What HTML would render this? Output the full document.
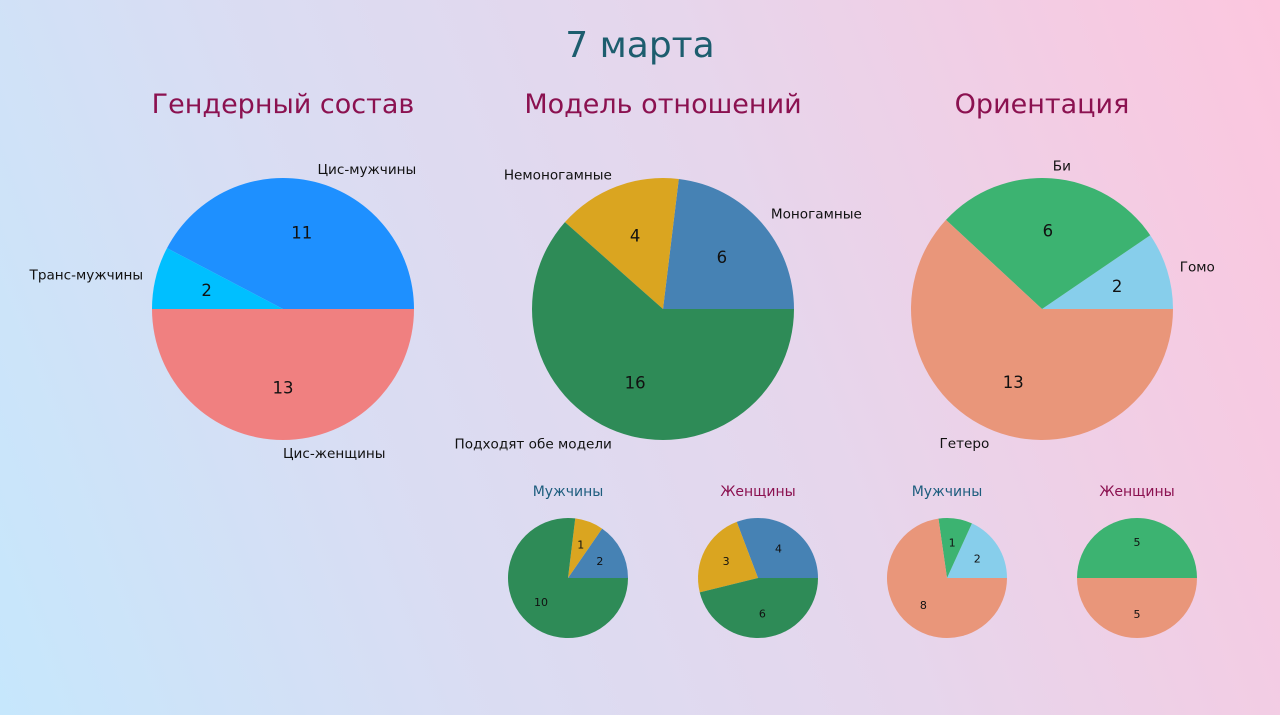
<!DOCTYPE html>
<html><head><meta charset="utf-8"><style>
html,body{margin:0;padding:0}
body{width:1280px;height:715px;overflow:hidden;background:linear-gradient(70deg,#c6e7fc 0%,#d9ddf3 30%,#e6d6ec 60%,#fcc6de 100%);font-family:"DejaVu Sans","Liberation Sans",sans-serif}
svg{position:absolute;left:0;top:0}
</style></head><body>
<svg id="chart" width="1280" height="715">
<text x="640" y="57" text-anchor="middle" font-size="36" fill="#1d5d6e">7 марта</text>
<text x="283" y="113" text-anchor="middle" font-size="27" fill="#8b1150">Гендерный состав</text>
<text x="663" y="113" text-anchor="middle" font-size="27" fill="#8b1150">Модель отношений</text>
<text x="1042" y="113" text-anchor="middle" font-size="27" fill="#8b1150">Ориентация</text>
<text x="568" y="496" text-anchor="middle" font-size="14" fill="#1d5d7e">Мужчины</text>
<text x="758" y="496" text-anchor="middle" font-size="14" fill="#8b1150">Женщины</text>
<text x="947" y="496" text-anchor="middle" font-size="14" fill="#1d5d7e">Мужчины</text>
<text x="1137" y="496" text-anchor="middle" font-size="14" fill="#8b1150">Женщины</text>
</svg>
<script>
const genderLabels=["Цис-мужчины","Транс-мужчины","Цис-женщины"];
const genderValues=[11,2,13];
const genderColors=["#1e90ff","#00bfff","#f08080"];
const relLabels=["Моногамные","Немоногамные","Подходят обе модели"];
const relValues=[6,4,16];
const relMenValues=[2,1,10];
const relWomenValues=[4,3,6];
const relColors=["#4682b4","#daa520","#2e8b57"];
const orLabels=["Гомо","Би","Гетеро"];
const orValues=[2,6,13];
const orMenValues=[2,1,8];
const orWomenValues=[0,5,5];
const orColors=["#87ceeb","#3cb371","#e9967a"];
const svg=document.getElementById('chart');
const NS="http://www.w3.org/2000/svg";
function pie(name,cx,cy,r,vals,colors,labels,numSize){
  const tot=vals.reduce((a,b)=>a+b,0);
  let a0=0;
  vals.forEach((v,i)=>{
    const a1=a0+v/tot*2*Math.PI;
    if(v>0){
      let el;
      if(v===tot){el=document.createElementNS(NS,'circle');el.setAttribute('cx',cx);el.setAttribute('cy',cy);el.setAttribute('r',r);}
      else{
        el=document.createElementNS(NS,'path');
        const x0=cx+r*Math.cos(a0),y0=cy-r*Math.sin(a0),x1=cx+r*Math.cos(a1),y1=cy-r*Math.sin(a1);
        el.setAttribute('d',`M${cx},${cy}L${x0},${y0}A${r},${r} 0 ${a1-a0>Math.PI?1:0} 0 ${x1},${y1}Z`);
      }
      el.setAttribute('fill',colors[i]);
      
      
      svg.appendChild(el);
      const m=(a0+a1)/2;
      const t=document.createElementNS(NS,'text');
      t.setAttribute('x',cx+0.6*r*Math.cos(m));t.setAttribute('y',cy-0.6*r*Math.sin(m)+numSize*0.36);
      t.setAttribute('text-anchor','middle');t.setAttribute('font-size',numSize);t.setAttribute('fill','#111');
      t.textContent=v;
      
      
      svg.appendChild(t);
      if(labels){
        const l=document.createElementNS(NS,'text');
        const lx=cx+1.1*r*Math.cos(m),ly=cy-1.1*r*Math.sin(m);
        l.setAttribute('x',lx);l.setAttribute('y',ly+5);
        l.setAttribute('text-anchor',Math.cos(m)>=-1e-6?'start':'end');
        l.setAttribute('font-size',13.6);l.setAttribute('fill','#111');
        l.textContent=labels[i];
        
        
        svg.appendChild(l);
      }
    }
    a0=a1;
  });
}
pie('gender',283,309,131,genderValues,genderColors,genderLabels,16.5);
pie('relationship',663,309,131,relValues,relColors,relLabels,16.5);
pie('orientation',1042,309,131,orValues,orColors,orLabels,16.5);
pie('rel-men',568,578,60,relMenValues,relColors,null,11);
pie('rel-women',758,578,60,relWomenValues,relColors,null,11);
pie('or-men',947,578,60,orMenValues,orColors,null,11);
pie('or-women',1137,578,60,orWomenValues,orColors,null,11);
</script>
</body></html>
